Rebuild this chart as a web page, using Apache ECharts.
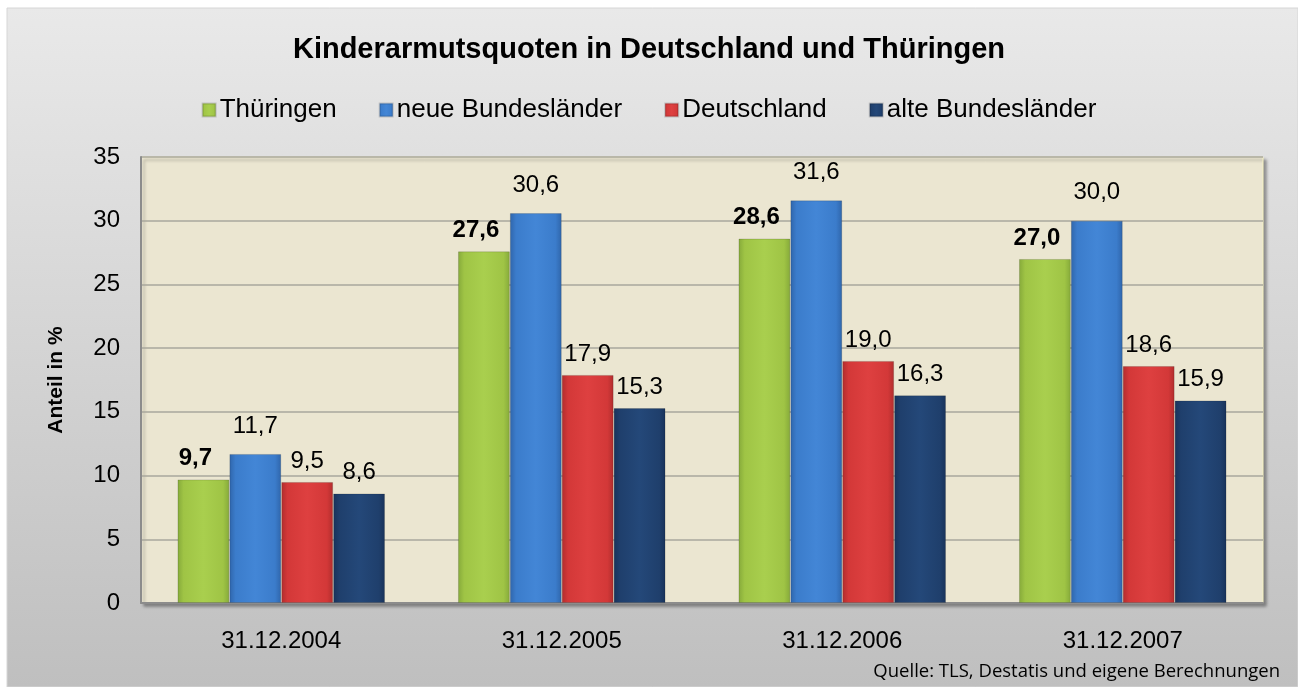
<!DOCTYPE html>
<html>
<head>
<meta charset="utf-8">
<script src="https://cdn.jsdelivr.net/npm/echarts@6/dist/echarts.min.js"></script>
<style>
html,body{margin:0;padding:0;background:#fff;}
#c{position:absolute;left:0;top:0;width:1298px;height:687px;}
</style>
</head>
<body>
<div id="c"></div>
<script>
const categories = ['31.12.2004', '31.12.2005', '31.12.2006', '31.12.2007'];
const seriesNames = ['Thüringen', 'neue Bundesländer', 'Deutschland', 'alte Bundesländer'];
const thueringen = [9.7, 27.6, 28.6, 27.0];
const neueBL = [11.7, 30.6, 31.6, 30.0];
const deutschland = [9.5, 17.9, 19.0, 18.6];
const alteBL = [8.6, 15.3, 16.3, 15.9];
const yTicks = [0, 5, 10, 15, 20, 25, 30, 35];
const titleText = 'Kinderarmutsquoten in Deutschland und Thüringen';
const yAxisTitle = 'Anteil in %';
const sourceText = 'Quelle: TLS, Destatis und eigene Berechnungen';

const chart = echarts.init(document.getElementById('c'), null, {renderer: 'canvas'});
const FONT = 'Liberation Sans, Arial, sans-serif';

function grad(light, mid, dark) {
  return new echarts.graphic.LinearGradient(0, 0, 1, 0, [
    {offset: 0, color: dark},
    {offset: 0.12, color: mid},
    {offset: 0.5, color: light},
    {offset: 0.88, color: mid},
    {offset: 1, color: dark}
  ]);
}
const colors = [
  {fill: grad('#a9cf4e', '#9fc445', '#85a93a'), legend: '#9cc246'},
  {fill: grad('#4386d6', '#3b7ccb', '#2f65aa'), legend: '#3c7ccc'},
  {fill: grad('#de4040', '#d33838', '#b02d2d'), legend: '#d33a3a'},
  {fill: grad('#244879', '#1f3f6c', '#18325a'), legend: '#1f3f6c'}
];
const dataSets = [thueringen, neueBL, deutschland, alteBL];
const fmt = p => p.value.toFixed(1).replace('.', ',');

const series = dataSets.map((d, i) => ({
  name: seriesNames[i],
  type: 'bar',
  data: d,
  barGap: '0%',
  barCategoryGap: '26%',
  itemStyle: {color: colors[i].fill, borderColor: 'rgba(0,0,0,0.15)', borderWidth: 1},
  label: {
    show: true,
    position: 'top',
    distance: i === 1 ? 16 : 9,
    offset: i === 0 ? [-8, 0] : [0, 0],
    formatter: fmt,
    color: '#000',
    fontFamily: FONT,
    fontSize: 24,
    fontWeight: i === 0 ? 'bold' : 'normal'
  }
}));

chart.setOption({
  animation: false,
  color: colors.map(c => c.legend),
  graphic: [
    {
      type: 'rect', z: -10, silent: true,
      shape: {x: 7, y: 8, width: 1291, height: 679},
      style: {
        fill: new echarts.graphic.LinearGradient(0, 0, 0, 1, [
          {offset: 0, color: '#e9e9e9'},
          {offset: 1, color: '#bfbfbf'}
        ]),
        stroke: '#d6d6d6', lineWidth: 1
      }
    },
    {
      type: 'text', right: 18, top: 662,
      style: {
        text: sourceText, fill: '#000',
        font: '18.5px "Open Sans", sans-serif'
      }
    }
  ],
  title: {
    text: titleText,
    left: 'center',
    top: 30,
    textStyle: {
      fontFamily: FONT,
      fontSize: 29, fontWeight: 'bold', color: '#000'
    }
  },
  legend: {
    top: 92,
    left: 'center',
    itemWidth: 13, itemHeight: 13, itemGap: 42,
    icon: 'rect',
    textStyle: {
      fontFamily: FONT,
      fontSize: 26, color: '#000', padding: [0, 0, 0, -1]
    },
    data: seriesNames
  },
  grid: {
    left: 141, right: 35, top: 157, bottom: 84,
    show: true,
    backgroundColor: '#ebe6d1',
    borderColor: '#f6f2c2',
    borderWidth: 1,
    shadowColor: 'rgba(0,0,0,0.35)',
    shadowBlur: 3,
    shadowOffsetX: 3,
    shadowOffsetY: 3
  },
  xAxis: {
    type: 'category',
    data: categories,
    axisTick: {show: false},
    axisLine: {show: true, lineStyle: {color: '#8c8c8c', width: 2}},
    axisLabel: {
      margin: 26,
      fontFamily: FONT,
      fontSize: 24, color: '#000'
    }
  },
  yAxis: {
    type: 'value',
    min: yTicks[0], max: yTicks[yTicks.length - 1], interval: 5,
    name: yAxisTitle,
    nameLocation: 'middle',
    nameGap: 74,
    nameRotate: 90,
    nameTextStyle: {
      fontFamily: FONT,
      fontSize: 21, fontWeight: 'bold', color: '#000'
    },
    axisLine: {show: true, lineStyle: {color: '#8c8c8c', width: 2}},
    axisTick: {show: false},
    splitLine: {lineStyle: {color: '#a9a79d', width: 1.5}},
    axisLabel: {
      margin: 21,
      fontFamily: FONT,
      fontSize: 24, color: '#000'
    }
  },
  series: series
});
</script>
</body>
</html>
